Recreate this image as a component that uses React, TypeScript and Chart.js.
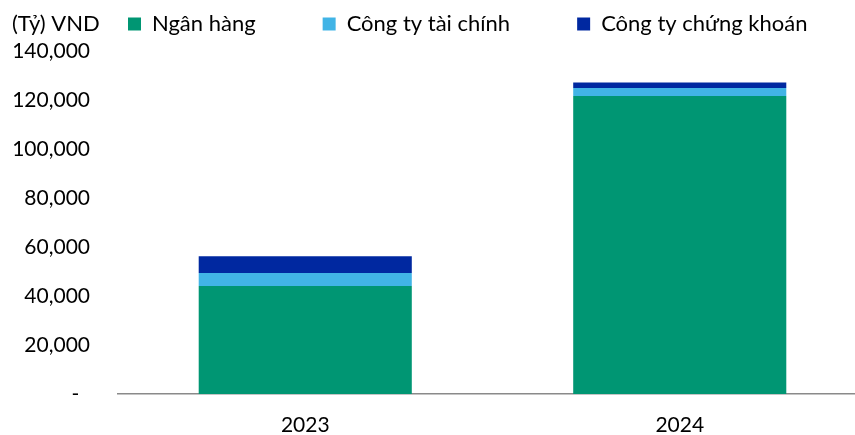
import React, { useEffect, useRef } from "react";
import { Chart, registerables } from "chart.js";

Chart.register(...registerables);

const categories = ["2023", "2024"];
const nganHang = [44100, 121700];
const congTyTaiChinh = [5300, 3300];
const congTyChungKhoan = [6900, 2200];
const yTicks = [0, 20000, 40000, 60000, 80000, 100000, 120000, 140000];
const unitLabel = "(Tỷ) VND";

const FONT = "Lato, 'Open Sans', sans-serif";
const TICK_SIZE = 21;
const LEGEND_SIZE = 22;
const LEGEND_PAD = 67;
const PAD_LEFT = 128 - LEGEND_PAD;
const PLOT_LEFT = 118;
const LABEL_RIGHT = 90;

const fmt = (v: number) => (v === 0 ? "-  " : v.toLocaleString("en-US"));

function widestLabel(): number {
  const c = document.createElement("canvas").getContext("2d")!;
  c.font = `${TICK_SIZE}px ${FONT}`;
  return Math.max(...yTicks.map((v) => c.measureText(fmt(v)).width));
}

const unitPlugin = {
  id: "unitLabel",
  afterDraw(chart: any) {
    const ctx = chart.ctx;
    ctx.save();
    ctx.font = `${LEGEND_SIZE}px ${FONT}`;
    ctx.fillStyle = "#000";
    ctx.textAlign = "left";
    ctx.textBaseline = "middle";
    ctx.fillText(unitLabel, 12, 24);
    ctx.restore();
  },
};

export default function App() {
  const ref = useRef<HTMLCanvasElement>(null);
  useEffect(() => {
    document.body.style.margin = "0";
    const widest = widestLabel();
    const chart = new Chart(ref.current!, {
      type: "bar",
      data: {
        labels: categories,
        datasets: [
          { label: "Ngân hàng", data: nganHang, backgroundColor: "#009673" },
          { label: "Công ty tài chính", data: congTyTaiChinh, backgroundColor: "#41B4E6" },
          { label: "Công ty chứng khoán", data: congTyChungKhoan, backgroundColor: "#0028A0" },
        ],
      },
      options: {
        animation: false,
        responsive: true,
        maintainAspectRatio: false,
        layout: { padding: { left: PAD_LEFT, top: 13 - LEGEND_PAD, right: -40, bottom: 0 } },
        datasets: { bar: { categoryPercentage: 1, barPercentage: 0.569 } },
        plugins: {
          title: { display: true, text: "", weight: 500, font: { size: 1 }, padding: { top: 3, bottom: 2 } },
          tooltip: { enabled: false },
          legend: {
            position: "top",
            align: "start",
            labels: {
              boxWidth: 13,
              boxHeight: 13,
              padding: LEGEND_PAD,
              color: "#000",
              font: { family: FONT, size: LEGEND_SIZE },
            },
          },
        },
        scales: {
          x: {
            stacked: true,
            grid: { display: false, drawTicks: false },
            border: { display: true, color: "#8a8a8a", width: 1.5 },
            ticks: { color: "#000", font: { family: FONT, size: TICK_SIZE }, padding: 19 },
            afterFit: (s: any) => { s.height = 41; },
          },
          y: {
            stacked: true,
            min: 0,
            max: 140000,
            grid: { display: false, drawTicks: false },
            border: { display: false },
            afterBuildTicks: (s: any) => { s.ticks = yTicks.map((v) => ({ value: v })); },
            ticks: {
              color: "#000",
              font: { family: FONT, size: TICK_SIZE },
              mirror: true,
              crossAlign: "far",
              padding: LABEL_RIGHT - PLOT_LEFT - widest,
              callback: (v: any) => fmt(Number(v)),
            },
            afterFit: (s: any) => { s.width = PLOT_LEFT - PAD_LEFT; },
          },
        },
      },
      plugins: [unitPlugin],
    });
    return () => chart.destroy();
  }, []);
  return (
    <div style={{ width: 855, height: 435, overflow: "hidden", position: "relative" }}>
      <div style={{ width: 867, height: 435, position: "relative" }}>
        <canvas ref={ref} />
      </div>
    </div>
  );
}
